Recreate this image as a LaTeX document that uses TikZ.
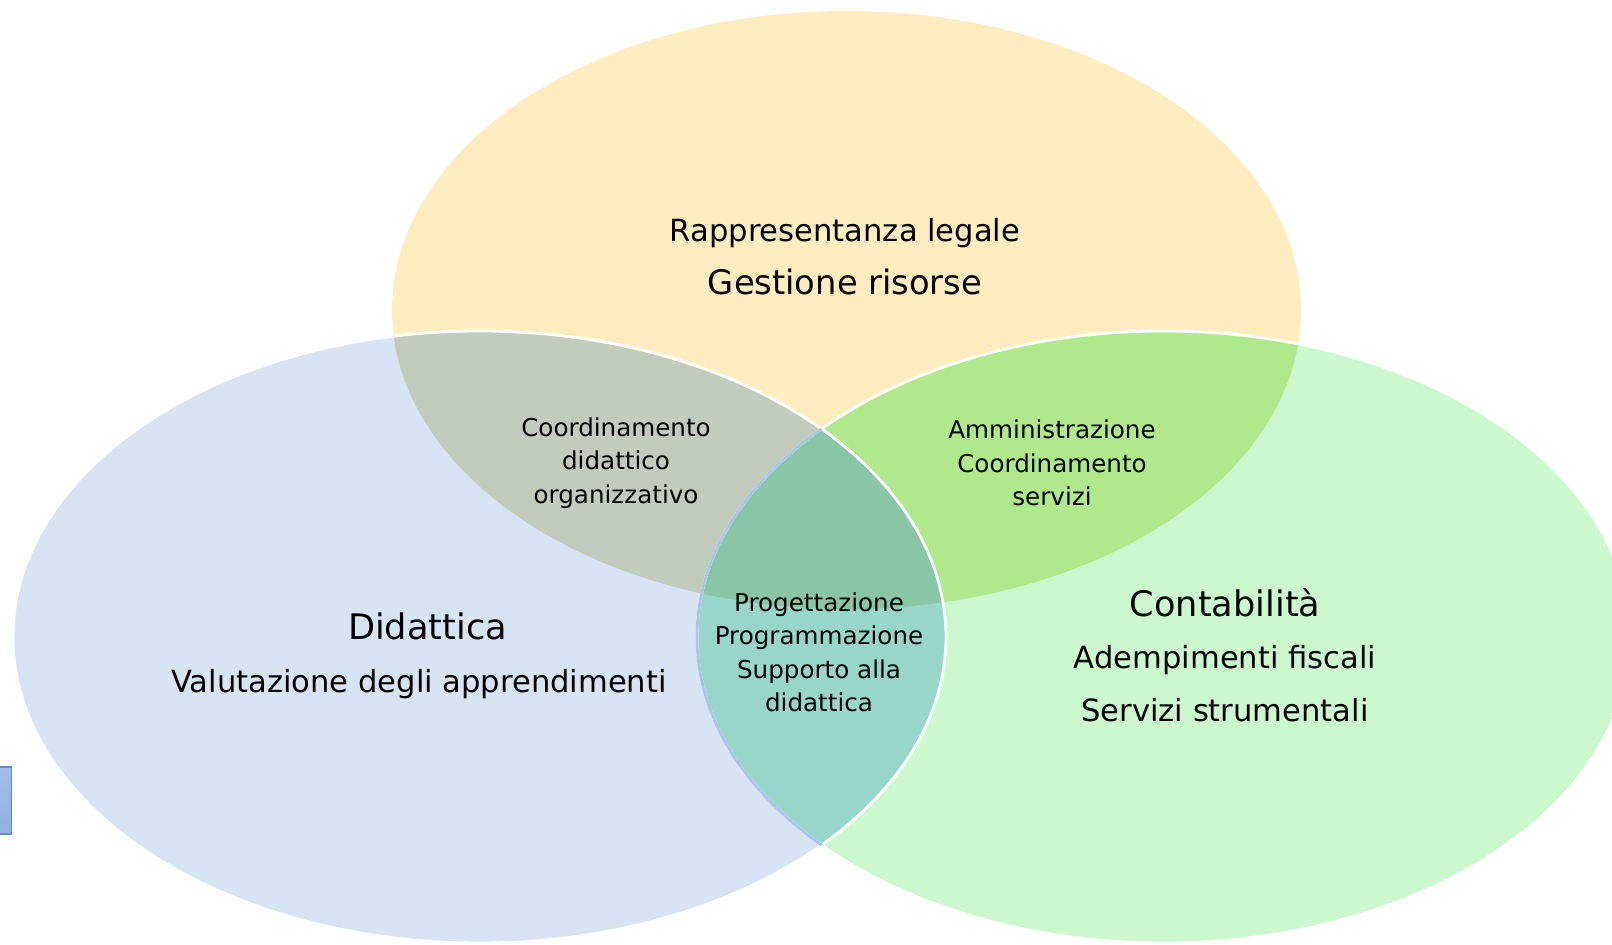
\documentclass[tikz,border=0pt]{standalone}
\usepackage{fontspec}
\setmainfont{DejaVu Sans}
\usetikzlibrary{positioning}

\definecolor{giallo}{HTML}{FFEDBF}
\definecolor{azzurro}{HTML}{D6E4F3}
\definecolor{verdino}{HTML}{CCF8CE}
\definecolor{grigioverde}{HTML}{C1CCBD}
\definecolor{verdemela}{HTML}{B0E98B}
\definecolor{acqua}{HTML}{98D6C9}
\definecolor{verdecentro}{HTML}{88C6A5}
\definecolor{bordoblu}{HTML}{A9C6E8}
\definecolor{bordorett}{RGB}{91,143,209}
\definecolor{rettsu}{RGB}{160,190,232}
\definecolor{rettgiu}{RGB}{145,177,222}

\newcommand{\titolo}[1]{{\fontsize{10}{14.9}\selectfont #1}}

\begin{document}
\begin{tikzpicture}[
  grande/.style={align=center, font=\fontsize{8.7}{14.9}\selectfont},
  piccolo/.style={align=center, font=\fontsize{7}{9.5}\selectfont}]
\clip (0,0) rectangle (16.12,9.44);
\def\ellsup{(8.465,6.34) ellipse [x radius=4.545cm, y radius=2.99cm]}
\def\ellsin{(4.795,3.07) ellipse [x radius=4.665cm, y radius=3.06cm]}
\def\elldes{(11.635,3.07) ellipse [x radius=4.665cm, y radius=3.06cm]}

% i tre insiemi
\fill [giallo] \ellsup;
\fill [azzurro] \ellsin;
\fill [verdino] \elldes;

% intersezioni
\begin{scope}
\clip \ellsup;
\fill [grigioverde] \ellsin;
\fill [verdemela] \elldes;
\end{scope}
\begin{scope}
\clip \ellsin;
\fill [acqua] \elldes;
\clip \elldes;
\fill [verdecentro] \ellsup;
\end{scope}

% bordi
\draw [white, line width=0.8pt] \ellsin;
\draw [white, line width=0.8pt] \elldes;
\begin{scope}
\clip \ellsin;
\draw [bordoblu, line width=0.8pt] \elldes;
\end{scope}

% rettangolo a sinistra
\draw [draw=bordorett, top color=rettsu, bottom color=rettgiu] (-0.1,1.10) rectangle (0.115,1.77);

\node [grande] (dirigente) at (8.45,6.875) {Rappresentanza legale\\{\fontsize{9.6}{14.9}\selectfont Gestione risorse}};
\node [piccolo] (coord) at (6.16,4.81) {Coordinamento\\didattico\\organizzativo};
\node [piccolo] (ammin) at (10.52,4.81) {Amministrazione\\Coordinamento\\servizi};
\node [piccolo] (centro) at (8.19,2.915) {Progettazione\\Programmazione\\Supporto alla\\didattica};
\node [grande] (docenti) at (4.19,2.88) {\hspace*{0.17cm}\titolo{Didattica}\\Valutazione degli apprendimenti};
\node [grande] (segreteria) at (12.25,2.89) {\titolo{Contabilità}\\Adempimenti fiscali\\Servizi strumentali};
\end{tikzpicture}
\end{document}
